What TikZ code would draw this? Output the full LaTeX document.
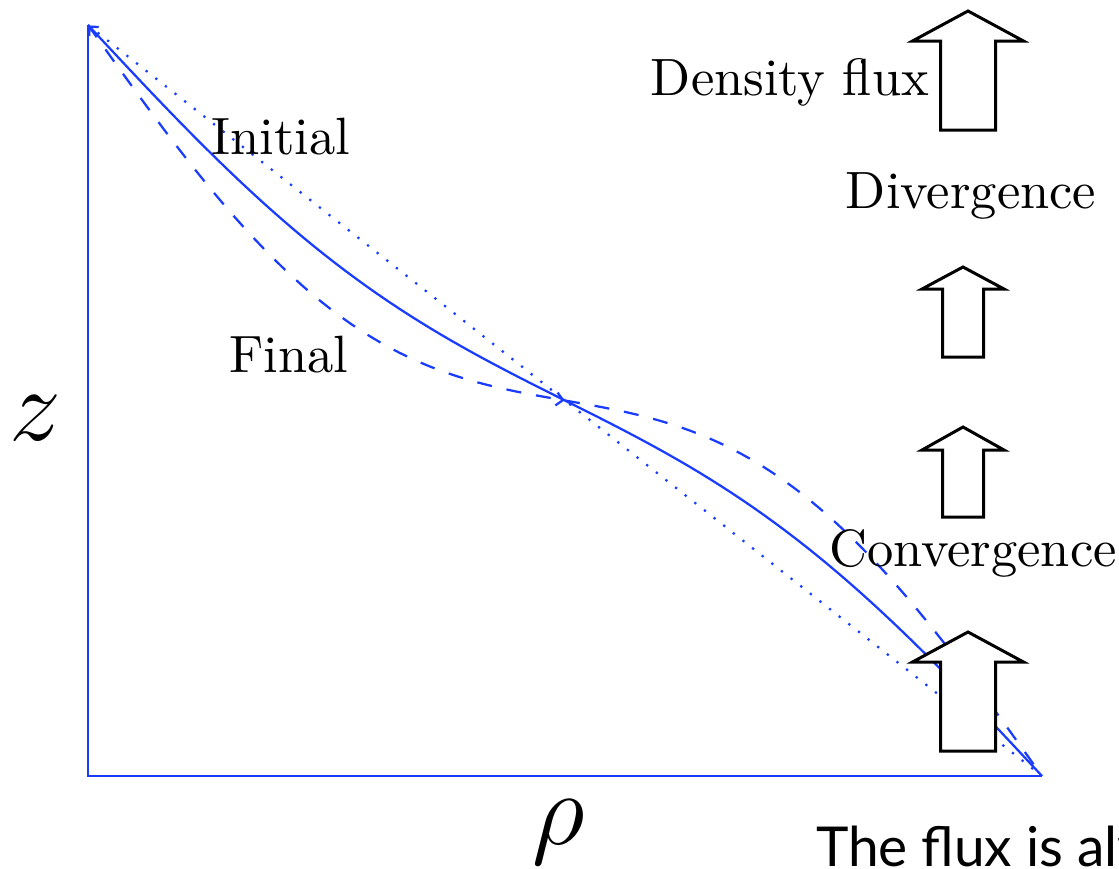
\documentclass[tikz,border=0pt]{standalone}
\usepackage{fontspec}
\newfontfamily\notefont{Lato}
\usetikzlibrary{arrows.meta}

\definecolor{curveblue}{RGB}{25,60,255}

\begin{document}
\begin{tikzpicture}[
        x=0.2pt, y=-0.2pt,
        every node/.style={font=\fontsize{10.5}{12.5}\selectfont},
        axis/.style={curveblue, line width=0.45pt},
        initial/.style={curveblue, line width=0.45pt, dotted},
        evolved/.style={curveblue, line width=0.45pt},
        final/.style={curveblue, line width=0.45pt, dashed},
        tip/.style={-{Straight Barb[length=1.3pt, width=2.6pt]}},
        flux/.style={draw=black, fill=white, line width=0.6pt, line join=miter}
    ]

    \useasboundingbox (0,0) rectangle (1119,868);
    \clip (0,0) rectangle (1119,868);

    \coordinate (top) at (88,25);
    \coordinate (origin) at (88,776);
    \coordinate (end) at (1042,776);

    % axes and the three profiles
    \draw[axis] (top) -- (origin) -- (end);
    \draw[initial] (top) -- (end);
    \draw[evolved, tip] plot[domain=1:0, samples=90]
        ({88+954*\x}, {25+751*(\x+0.058*sin(360*\x))});
    \draw[final, tip] plot[domain=0:0.5, samples=50]
        ({88+954*\x}, {25+751*(\x+0.124*sin(360*\x))});
    \draw[final] plot[domain=0.5:1, samples=50]
        ({88+954*\x}, {25+751*(\x+0.124*sin(360*\x))});

    % block arrows
    \foreach \cx/\tipy/\heady/\basey/\hw/\sw in {968/11/41/130/55.5/27.5,
        963/267/289/357/41/20.5, 963/427/450/517/41/20.5,
        968/632/662/751/55.5/27.5}
        \filldraw[flux] (\cx,\tipy) -- (\cx+\hw,\heady) -- (\cx+\sw,\heady)
            -- (\cx+\sw,\basey) -- (\cx-\sw,\basey) -- (\cx-\sw,\heady)
            -- (\cx-\hw,\heady) -- cycle;

    \node (initiallabel) at (281,137) {Initial};
    \node (finallabel) at (289,355) {Final};
    \node (densityflux) at (790,82) {Density flux};
    \node (divergence) at (971,196) {Divergence};
    \node (convergence) at (973,553) {Convergence};
    \node (zlabel) at (35,418) {\fontsize{21}{25}\selectfont$z$};
    \node (rholabel) at (559,832) {\fontsize{21}{25}\selectfont$\rho$};
    \node[anchor=base west, inner sep=0pt, font=\notefont\fontsize{11}{13}\selectfont] (note)
        at (815,866) {The flux is always};
\end{tikzpicture}
\end{document}
